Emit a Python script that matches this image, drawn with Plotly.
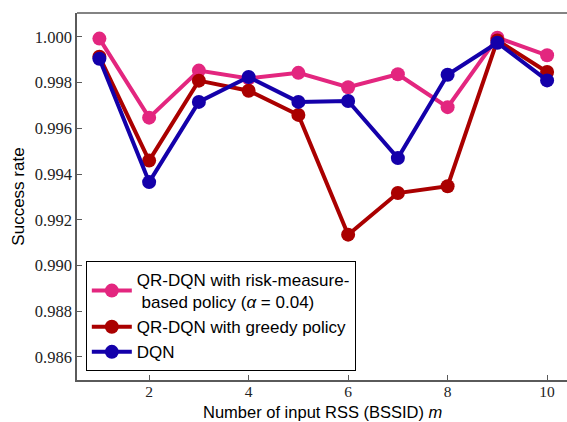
import plotly.graph_objects as go

m_values = [1, 2, 3, 4, 5, 6, 7, 8, 9, 10]
risk_policy = [0.99993, 0.99647, 0.99853, 0.99819, 0.99843, 0.99780, 0.99837, 0.99693, 0.99997, 0.99920]
greedy_policy = [0.99914, 0.99459, 0.99809, 0.99765, 0.99659, 0.99135, 0.99317, 0.99347, 0.99985, 0.99847]
dqn = [0.99905, 0.99365, 0.99716, 0.99825, 0.99716, 0.99720, 0.99470, 0.99835, 0.99975, 0.99810]

series_names = [
    "QR-DQN with risk-measure-<br> based policy (<i>α</i> = 0.04)",
    "QR-DQN with greedy policy",
    "DQN",
]
colors = ["#e3267f", "#aa0000", "#1400aa"]
x_ticks = [2, 4, 6, 8, 10]
y_ticks = [0.986, 0.988, 0.990, 0.992, 0.994, 0.996, 0.998, 1.000]

fig = go.Figure()
for name, ys, c in zip(series_names, [risk_policy, greedy_policy, dqn], colors):
    fig.add_trace(go.Scatter(
        x=m_values, y=ys, name=name, mode="lines+markers",
        line=dict(color=c, width=4),
        marker=dict(color=c, size=14),
    ))

axis_color = "#5a5a5a"
sans = "Liberation Sans, Arial, sans-serif"
serif = "Liberation Serif, DejaVu Serif, serif"
fig.update_layout(
    width=567, height=422,
    margin=dict(l=77, r=0, t=13, b=42),
    plot_bgcolor="white", paper_bgcolor="white",
    showlegend=True,
    legend=dict(
        x=0.018, y=0.0245, xanchor="left", yanchor="bottom",
        bordercolor="black", borderwidth=1, bgcolor="white",
        font=dict(family=sans, size=17, color="black"),
        tracegroupgap=0, itemwidth=40,
    ),
    xaxis=dict(
        range=[0.55, 10.4], tickvals=x_ticks, ticktext=[str(t) for t in x_ticks],
        ticks="inside", ticklen=5, tickcolor=axis_color,
        showline=True, linecolor=axis_color, linewidth=1.5,
        showgrid=False, zeroline=False, ticklabelstandoff=-3,
        tickfont=dict(family=serif, size=15.5, color="#222"),
    ),
    yaxis=dict(
        range=[0.98499, 1.00105], tickvals=y_ticks, ticktext=[f"{t:.3f}" for t in y_ticks],
        ticks="inside", ticklen=5, tickcolor=axis_color,
        showline=True, linecolor=axis_color, linewidth=1.5,
        showgrid=False, zeroline=False,
        tickfont=dict(family=serif, size=16.5, color="#222"),
        title=dict(text="Success rate",
                   font=dict(family=sans, size=17, color="black"),
                   standoff=6),
    ),
    shapes=[dict(type="line", xref="paper", yref="paper", x0=0, x1=1, y0=1, y1=1,
                 line=dict(color=axis_color, width=1.5))],
    annotations=[dict(text="Number of input RSS (BSSID) <i>m</i>",
                      xref="paper", yref="paper", x=0.5, y=0, yshift=-32,
                      xanchor="center", yanchor="middle", showarrow=False,
                      font=dict(family=sans, size=16.5, color="black"))],
)

fig.write_html("out.html")
